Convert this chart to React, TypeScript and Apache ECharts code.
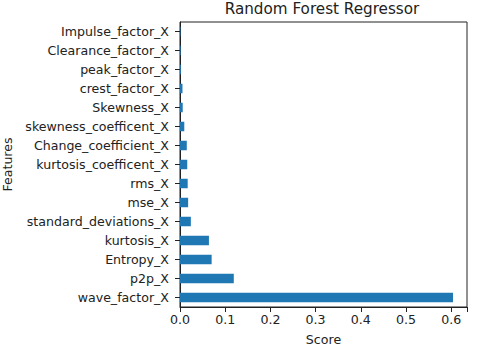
import React, { useEffect, useRef } from "react";
import * as echarts from "echarts";

const features = [
  "wave_factor_X",
  "p2p_X",
  "Entropy_X",
  "kurtosis_X",
  "standard_deviations_X",
  "mse_X",
  "rms_X",
  "kurtosis_coefficent_X",
  "Change_coefficient_X",
  "skewness_coefficent_X",
  "Skewness_X",
  "crest_factor_X",
  "peak_factor_X",
  "Clearance_factor_X",
  "Impulse_factor_X",
];
const scores = [0.604, 0.119, 0.07, 0.064, 0.024, 0.018, 0.017, 0.016, 0.015, 0.0095, 0.006, 0.0055, 0.002, 0.0015, 0.001];
const xTicks = [0, 0.1, 0.2, 0.3, 0.4, 0.5, 0.6];

const FONT = "DejaVu Sans";

export default function App() {
  const ref = useRef<HTMLDivElement>(null);
  useEffect(() => {
    const chart = echarts.init(ref.current!, null, { renderer: "svg" });
    chart.setOption({
      animation: false,
      backgroundColor: "#ffffff",
      title: {
        text: "Random Forest Regressor",
        left: 322,
        textAlign: "center",
        top: 1,
        padding: 0,
        textStyle: { fontFamily: FONT, fontSize: 15.2, fontWeight: "normal", color: "#222" },
      },
      grid: {
        left: 180,
        right: 13,
        top: 22,
        bottom: 43,
        show: true,
        borderColor: "#222",
        borderWidth: 1,
        containLabel: false,
        outerBoundsMode: "none",
      },
      xAxis: {
        type: "value",
        min: 0,
        max: 0.635,
        interval: 0.1,
        name: "Score",
        nameLocation: "middle",
        nameGap: 26,
        nameTextStyle: { fontFamily: FONT, fontSize: 12.6, color: "#222" },
        splitLine: { show: false },
        axisLine: { show: true, lineStyle: { color: "#222", width: 1 } },
        axisTick: { show: true, length: 5, lineStyle: { color: "#222" } },
        axisLabel: {
          fontFamily: FONT,
          fontSize: 12.6,
          color: "#222",
          margin: 6,
          formatter: (v: number) => {
            const found = xTicks.find((t) => Math.abs(t - v) < 1e-6);
            return found === undefined ? "" : found.toFixed(1);
          },
        },
      },
      yAxis: {
        type: "category",
        data: features,
        name: "Features",
        nameLocation: "middle",
        nameGap: 162,
        nameTextStyle: { fontFamily: FONT, fontSize: 12.6, color: "#222" },
        axisLine: { show: true, lineStyle: { color: "#222", width: 1 } },
        axisTick: { show: true, alignWithLabel: true, length: 5, lineStyle: { color: "#222" } },
        axisLabel: { fontFamily: FONT, fontSize: 12.6, color: "#222", margin: 11 },
        splitLine: { show: false },
      },
      series: [
        {
          type: "bar",
          data: scores,
          barWidth: "50%",
          itemStyle: { color: "#1f77b4" },
        },
      ],
    });
    return () => chart.dispose();
  }, []);
  return (
    <div
      ref={ref}
      style={{ position: "fixed", left: 0, top: 0, width: 480, height: 350 }}
    />
  );
}
